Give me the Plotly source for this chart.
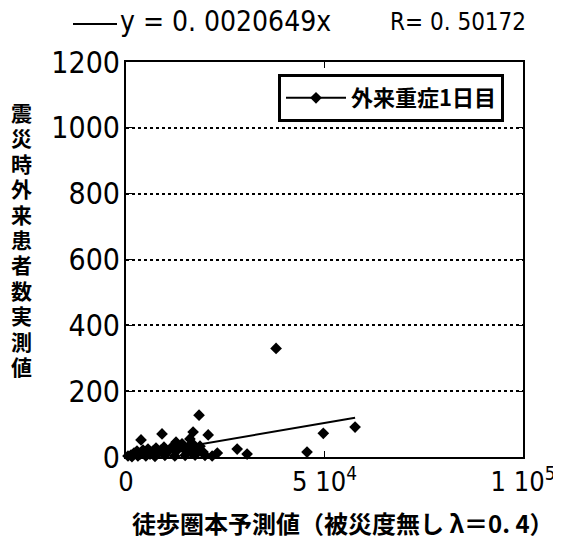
import numpy as np
import plotly.graph_objects as go

# Data
pred_x = [1260, 2015, 2770, 3530, 4280, 4790, 5540, 6050, 6800, 7560, 8060, 8820, 9570,
          10330, 11080, 11840, 12590, 13350, 14110, 14860, 15620, 16370, 17130, 17880,
          18640, 19400, 500, 1500, 3000, 5000, 7300, 9800, 12300, 14900, 17400, 19900,
          21700, 18400, 9070, 3780, 16900, 20700, 12600, 16100, 28000, 30500, 23000,
          57700, 49700, 45600, 37800]
actual_y = [6, 12, 18, 9, 21, 15, 24, 9, 18, 27, 12, 21, 30,
            15, 24, 33, 18, 27, 40, 21, 30, 15, 36, 24,
            33, 15, 3, 1, 3, 3, 2, 5, 3, 5, 6, 5,
            3, 127, 70, 52, 76, 67, 45, 55, 24, 9, 12,
            91, 72, 15, 330]
slope = 0.0020649
r_value = 0.50172
series_name = "外来重症1日目"
x_tickvals = [0, 50000, 100000]
x_ticktext = ["0", "5 10<sup>4</sup>", "1 10<sup>5</sup>"]
y_tickvals = [0, 200, 400, 600, 800, 1000, 1200]

NUMFONT = "Liberation Sans Narrow, DejaVu Sans Condensed, Noto Sans CJK JP"
JPFONT = "Noto Sans CJK JP"

# plot area in page pixels (page body has an 8px margin)
L, T, PW, PH = 118, 54, 397, 395
W, H = 553, 533


def px_to_paper(px, py):
    # px, py in reference-image pixel coordinates
    return ((px - 8) - L) / PW, 1 - ((py - 8) - T) / PH


fig = go.Figure()
fig.add_trace(go.Scatter(x=pred_x, y=actual_y, mode="markers",
                         marker=dict(symbol="diamond", size=9, color="black"),
                         showlegend=False, cliponaxis=False))
line_x = np.array([0, max(pred_x)])
fig.add_trace(go.Scatter(x=line_x, y=slope * line_x, mode="lines",
                         line=dict(color="black", width=2), showlegend=False))
# legend-only entry
fig.add_trace(go.Scatter(x=[None], y=[None], mode="lines+markers", name=series_name,
                         line=dict(color="black", width=2),
                         marker=dict(symbol="diamond", size=9, color="black")))

lx, ly = px_to_paper(278, 74)
fig.update_layout(
    width=W, height=H,
    margin=dict(l=L, r=W - L - PW, t=T, b=H - T - PH, autoexpand=False),
    paper_bgcolor="white", plot_bgcolor="white",
    font=dict(family=NUMFONT, color="black", size=20),
    legend=dict(x=lx, y=ly, xanchor="left", yanchor="top",
                bordercolor="black", borderwidth=3, bgcolor="white",
                font=dict(size=22, family=JPFONT, weight="bold"), itemwidth=60,
                tracegroupgap=0),
    xaxis=dict(range=[0, 100000], tickvals=x_tickvals, ticktext=x_ticktext,
               showgrid=False, zeroline=False, showline=True, linecolor="black",
               linewidth=2, mirror="ticks", ticks="inside", ticklen=6,
               tickcolor="black", tickfont=dict(size=27, family=NUMFONT),
               ticklabeloverflow="allow", automargin=False),
    yaxis=dict(range=[0, 1200], tickvals=y_tickvals,
               showgrid=True, gridcolor="black", griddash="dot", gridwidth=1.5,
               zeroline=False, showline=True, linecolor="black",
               linewidth=2, mirror="ticks", ticks="inside", ticklen=6,
               tickcolor="black", tickfont=dict(size=30, family=NUMFONT),
               ticklabelstandoff=-2, ticklabeloverflow="allow", automargin=False),
)

# y axis label (stacked vertical characters)
ylabel = "震災時外来患者数実測値"
for i, ch in enumerate(ylabel):
    ax, ay = px_to_paper(21, 112 + i * 25.4)
    fig.add_annotation(xref="paper", yref="paper", x=ax, y=ay, text=ch,
                       showarrow=False, font=dict(size=21, family=JPFONT, weight="bold"),
                       xanchor="center", yanchor="middle")
# x axis label
ax, ay = px_to_paper(130, 522)
fig.add_annotation(xref="paper", yref="paper", x=ax, y=ay,
                   text="徒歩圏本予測値（被災度無し λ＝0. 4）", showarrow=False,
                   font=dict(size=24, family=JPFONT, weight="bold"),
                   xanchor="left", yanchor="middle")
# regression title
ax, ay = px_to_paper(118, 22)
fig.add_annotation(xref="paper", yref="paper", x=ax, y=ay,
                   text=f"y = 0. {str(slope)[2:]}x", showarrow=False,
                   font=dict(size=28, family=NUMFONT), xanchor="left", yanchor="middle")
ax2, _ = px_to_paper(388, 22)
fig.add_annotation(xref="paper", yref="paper", x=ax2, y=ay,
                   text=f"R= 0. {str(r_value)[2:]}", showarrow=False,
                   font=dict(size=24, family=NUMFONT), xanchor="left", yanchor="middle")
x0, _ = px_to_paper(73, 24)
x1, yl = px_to_paper(117, 24)
fig.add_shape(type="line", xref="paper", yref="paper",
              x0=x0, x1=x1, y0=yl, y1=yl, line=dict(color="black", width=2))

fig.write_html("out.html")
